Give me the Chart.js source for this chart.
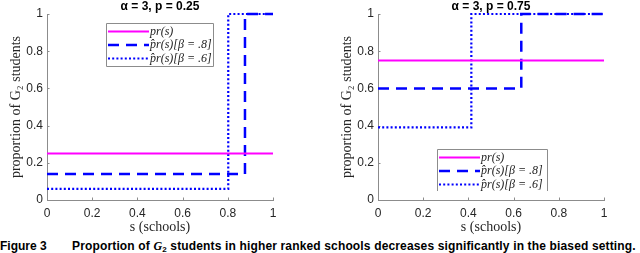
<!DOCTYPE html>
<html><head><meta charset="utf-8">
<script src="https://cdn.jsdelivr.net/npm/chart.js@4.4.1/dist/chart.umd.min.js"></script>
<style>
html,body{margin:0;padding:0;background:#fff;width:640px;height:253px;overflow:hidden;}
.panel{position:absolute;top:0;width:320px;height:238px;}
#p1{left:0} #p2{left:320px}
#cap{position:absolute;left:0;top:240px;font:bold 12px 'Liberation Sans',Arial,sans-serif;white-space:nowrap;color:#000;line-height:13px;letter-spacing:0.15px}
#cap .fig{display:inline-block;width:72px;letter-spacing:0}
#cap i{font-family:'Liberation Serif',serif;font-style:italic;font-weight:bold}
#cap sub{font-size:8px;vertical-align:-2px;line-height:0}
</style></head><body>
<div class="panel" id="p1"><canvas id="c1" width="320" height="238"></canvas></div>
<div class="panel" id="p2"><canvas id="c2" width="320" height="238"></canvas></div>
<div id="cap"><span class="fig">Figure 3</span>Proportion of <i>G</i><sub>2</sub> students in higher ranked schools decreases significantly in the biased setting.</div>
<script>
// ---- data ----
const tickValues = [0, 0.2, 0.4, 0.6, 0.8, 1];
const tickLabels = ['0', '0.2', '0.4', '0.6', '0.8', '1'];
const seriesLabels = ['pr(s)', 'p\u0302r(s)[\u03B2 = .8]', 'p\u0302r(s)[\u03B2 = .6]'];
const titles = ['\u03B1 = 3, p = 0.25', '\u03B1 = 3, p = 0.75'];

const leftPrX = [0, 1];          const leftPrY = [0.25, 0.25];
const leftB8X = [0, 0.876, 1];   const leftB8Y = [0.14, 1, 1];
const leftB6X = [0, 0.802, 1];   const leftB6Y = [0.06, 1, 1];

const rightPrX = [0, 1];         const rightPrY = [0.75, 0.75];
const rightB8X = [0, 0.634, 1];  const rightB8Y = [0.6, 1, 1];
const rightB6X = [0, 0.413, 1];  const rightB6Y = [0.39, 1, 1];

const pts = (xs, ys) => xs.map((x, i) => ({x, y: ys[i]}));

const AXIS_GRAY = '#8c8c8c';

const inwardTicks = {
  id: 'inwardTicks',
  beforeDatasetsDraw(chart) {
    const {ctx, chartArea: a, scales: {x, y}} = chart;
    ctx.save();
    ctx.strokeStyle = AXIS_GRAY; ctx.lineWidth = 1;
    x.ticks.forEach(t => {
      const px = Math.round(x.getPixelForValue(t.value)) + 0.5;
      ctx.beginPath(); ctx.moveTo(px, a.bottom); ctx.lineTo(px, a.bottom - 2.5); ctx.stroke();
    });
    y.ticks.forEach(t => {
      const py = Math.round(y.getPixelForValue(t.value)) + 0.5;
      ctx.beginPath(); ctx.moveTo(a.left, py); ctx.lineTo(a.left + 2.5, py); ctx.stroke();
    });
    ctx.restore();
  }
};

const boxLegend = {
  id: 'boxLegend',
  afterDatasetsDraw(chart, args, opts) {
    const {ctx} = chart;
    const {x, y, w, h, noBottom} = opts;
    ctx.save();
    ctx.fillStyle = '#fff';
    ctx.fillRect(x, y, w, h);
    ctx.strokeStyle = '#8c8c8c'; ctx.lineWidth = 1;
    ctx.beginPath();
    if (noBottom) {
      ctx.moveTo(x + 0.5, y + h); ctx.lineTo(x + 0.5, y + 0.5); ctx.lineTo(x + w + 0.5, y + 0.5); ctx.lineTo(x + w + 0.5, y + h);
    } else {
      ctx.rect(x + 0.5, y + 0.5, w, h);
    }
    ctx.stroke();
    ctx.font = 'italic 12px "Liberation Serif", serif';
    ctx.textBaseline = 'middle';
    chart.data.datasets.forEach((ds, i) => {
      const ry = y + 8.5 + i * 13.5;
      ctx.strokeStyle = ds.borderColor;
      ctx.lineWidth = ds.borderWidth;
      ctx.setLineDash(ds.borderDash || []);
      ctx.beginPath(); ctx.moveTo(x + 2, ry); ctx.lineTo(x + 43, ry); ctx.stroke();
      ctx.setLineDash([]);
      ctx.fillStyle = '#222';
      ctx.fillText(ds.label, x + 44, ry);
    });
    ctx.restore();
  }
};

function makeChart(id, title, prData, b8Data, b6Data, yAxisWidth, yTitlePad, legendOpts, rightPad) {
  return new Chart(document.getElementById(id), {
    type: 'line',
    data: {
      datasets: [
        {label: seriesLabels[0], data: prData, borderColor: '#ff00ff', borderWidth: 2, pointRadius: 0, fill: false, clip: false},
        {label: seriesLabels[1], data: b8Data, borderColor: '#0000ff', borderWidth: 2.5, borderDash: [11, 7], stepped: 'before', pointRadius: 0, fill: false, clip: false},
        {label: seriesLabels[2], data: b6Data, borderColor: '#0000ff', borderWidth: 2.2, borderDash: [2, 2.2], stepped: 'before', pointRadius: 0, fill: false, clip: false}
      ]
    },
    options: {
      responsive: false,
      animation: false,
      layout: {padding: {left: 0, right: rightPad, top: 0, bottom: 0}},
      plugins: {
        legend: {display: false},
        tooltip: {enabled: false},
        title: {
          display: true, text: title, fullSize: false, color: '#000',
          font: {family: "'Liberation Sans', Arial, sans-serif", size: 12, weight: 'bold', lineHeight: '14px'},
          padding: 0
        },
        boxLegend: legendOpts
      },
      scales: {
        x: {
          type: 'linear', min: 0, max: 1,
          afterBuildTicks: s => { s.ticks = tickValues.map(v => ({value: v})); },
          afterFit: s => { s.height = 38; },
          grid: {display: false, drawTicks: false},
          border: {display: true, color: AXIS_GRAY, width: 1},
          ticks: {
            padding: 6, color: '#262626', maxRotation: 0,
            font: {family: "'Liberation Sans', Arial, sans-serif", size: 12},
            callback: (v, i) => tickLabels[i]
          },
          title: {
            display: true, text: 's (schools)', color: '#262626',
            font: {family: "'Liberation Serif', serif", size: 14, lineHeight: '14px'},
            padding: {top: 0, bottom: 4}
          }
        },
        y: {
          type: 'linear', min: 0, max: 1,
          afterBuildTicks: s => { s.ticks = tickValues.map(v => ({value: v})); },
          afterFit: s => { s.width = yAxisWidth; },
          grid: {display: false, drawTicks: false},
          border: {display: true, color: AXIS_GRAY, width: 1},
          ticks: {
            padding: 4, color: '#262626',
            font: {family: "'Liberation Sans', Arial, sans-serif", size: 12},
            callback: (v, i) => tickLabels[i]
          },
          title: {
            display: true, text: 'proportion of G\u2082 students', color: '#262626',
            font: {family: "'Liberation Serif', serif", size: 14, lineHeight: '14px'},
            padding: {top: yTitlePad, bottom: 0}
          }
        }
      }
    },
    plugins: [inwardTicks, boxLegend]
  });
}

makeChart('c1', titles[0], pts(leftPrX, leftPrY), pts(leftB8X, leftB8Y), pts(leftB6X, leftB6Y),
  47, 9, {x: 106, y: 23, w: 107, h: 43, noBottom: false}, 47);
makeChart('c2', titles[1], pts(rightPrX, rightPrY), pts(rightB8X, rightB8Y), pts(rightB6X, rightB6Y),
  58, 20, {x: 117, y: 149, w: 110, h: 42, noBottom: true}, 36);
</script>
</body></html>
